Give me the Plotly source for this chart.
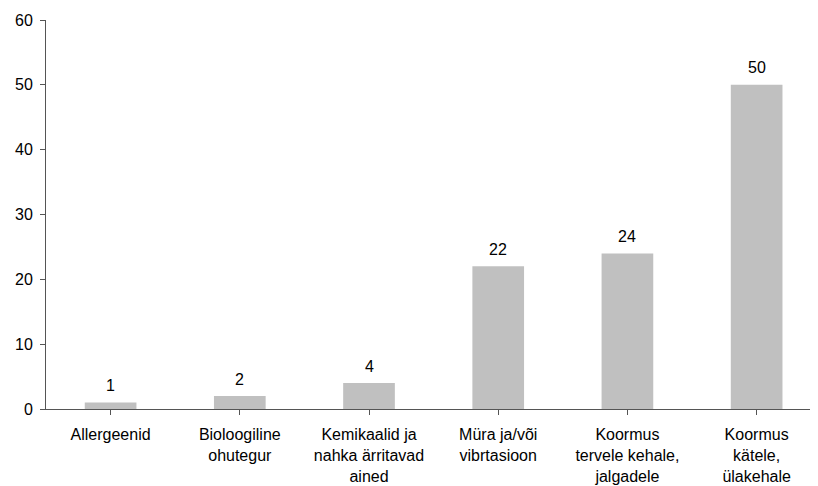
import plotly.graph_objects as go

categories = [
    "Allergeenid",
    "Bioloogiline<br>ohutegur",
    "Kemikaalid ja<br>nahka ärritavad<br>ained",
    "Müra ja/või<br>vibrtasioon",
    "Koormus<br>tervele kehale,<br>jalgadele",
    "Koormus<br>kätele,<br>ülakehale",
]
values = [1, 2, 4, 22, 24, 50]
y_ticks = [0, 10, 20, 30, 40, 50, 60]

FONT = "Liberation Sans, Arial, sans-serif"

fig = go.Figure(
    go.Bar(
        x=list(range(len(categories))),
        y=values,
        width=0.4,
        marker=dict(color="#c0c0c0", line=dict(width=0)),
        hoverinfo="skip",
    )
)

for i, v in enumerate(values):
    fig.add_annotation(
        x=i, y=v, text=str(v), showarrow=False,
        xanchor="center", yanchor="middle", yshift=17,
        font=dict(family=FONT, size=16, color="#000"),
    )

fig.update_layout(
    width=810,
    height=478,
    margin=dict(l=38, r=0, t=12, b=77),
    plot_bgcolor="white",
    paper_bgcolor="white",
    font=dict(family=FONT, size=16, color="#000"),
    showlegend=False,
)
fig.update_xaxes(
    range=[-0.5, 5.475],
    tickmode="array",
    tickvals=list(range(len(categories))),
    ticktext=categories,
    tickson="boundaries",
    ticks="outside",
    ticklen=5,
    tickcolor="#555",
    showline=True,
    linecolor="#555",
    linewidth=1,
    showgrid=False,
    zeroline=False,
    tickangle=0,
    tickfont=dict(family=FONT, size=16, color="#000"),
    ticklabelstandoff=6,
    automargin=False,
)
fig.update_yaxes(
    range=[0, 60],
    tickvals=y_ticks,
    ticks="outside",
    ticklen=5,
    tickcolor="#555",
    showline=True,
    linecolor="#555",
    linewidth=1,
    showgrid=False,
    zeroline=False,
    tickfont=dict(family=FONT, size=16, color="#000"),
    ticklabelstandoff=4,
    automargin=False,
)

fig.write_html("out.html")
